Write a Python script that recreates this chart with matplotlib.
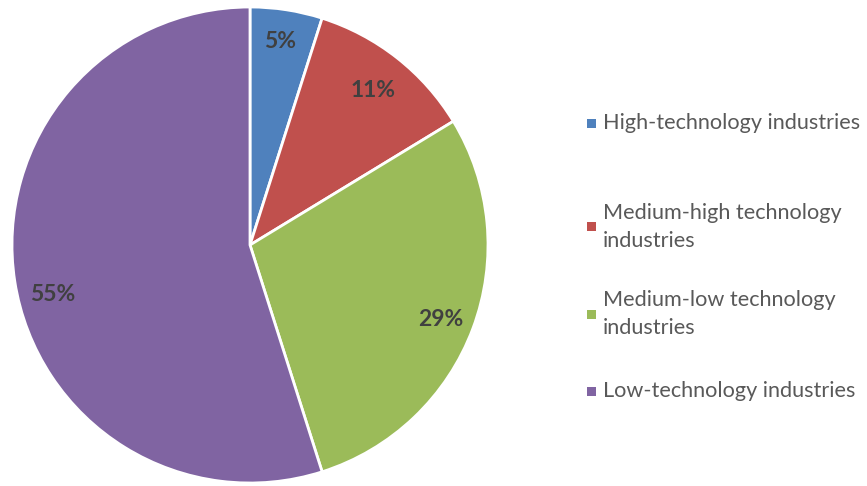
import matplotlib
matplotlib.use("Agg")
import matplotlib.pyplot as plt
from matplotlib.patches import Rectangle

categories = ["High-technology industries",
              "Medium-high technology\nindustries",
              "Medium-low technology\nindustries",
              "Low-technology industries"]
shares = [4.9, 11.4, 28.8, 54.9]
colors = ["#4F81BD", "#C0504D", "#9BBB59", "#8064A2"]

plt.rcParams['font.family'] = ['Lato', 'DejaVu Sans']

W, H = 867, 486
fig = plt.figure(figsize=(W / 100, H / 100), dpi=100)

cx, cy, r = 250, 245, 238
ax = fig.add_axes([(cx - r) / W, (H - cy - r) / H, 2 * r / W, 2 * r / H])
wedges, texts, autotexts = ax.pie(
    shares, colors=colors, startangle=90, counterclock=False,
    autopct=lambda p: f"{p:.0f}%", pctdistance=0.86,
    wedgeprops=dict(edgecolor="white", linewidth=2),
    textprops=dict(color="#404040", fontsize=16.5, fontweight="bold"))
ax.set_aspect("equal")
ax.set_xlim(-1, 1)
ax.set_ylim(-1, 1)

# Excel put the data labels a bit off the mid-angle; nudge them there
label_pos = [(0.128, 0.857), (0.519, 0.649), (0.800, -0.311), (-0.828, -0.208)]
for t, (px, py) in zip(autotexts, label_pos):
    t.set_position((px, py))

# legend, placed by hand like the Excel layout
legend_y = [123, 227, 314, 391]
for lab, col, y in zip(categories, colors, legend_y):
    fig.add_artist(Rectangle((587 / W, (H - y - 4.5) / H), 9 / W, 9 / H,
                             transform=fig.transFigure, facecolor=col,
                             edgecolor="none"))
    fig.text(603 / W, (H - y) / H, lab, ha="left", va="center",
             fontsize=15.6, color="#595959", linespacing=1.55)

fig.savefig("out.png", dpi=100)
